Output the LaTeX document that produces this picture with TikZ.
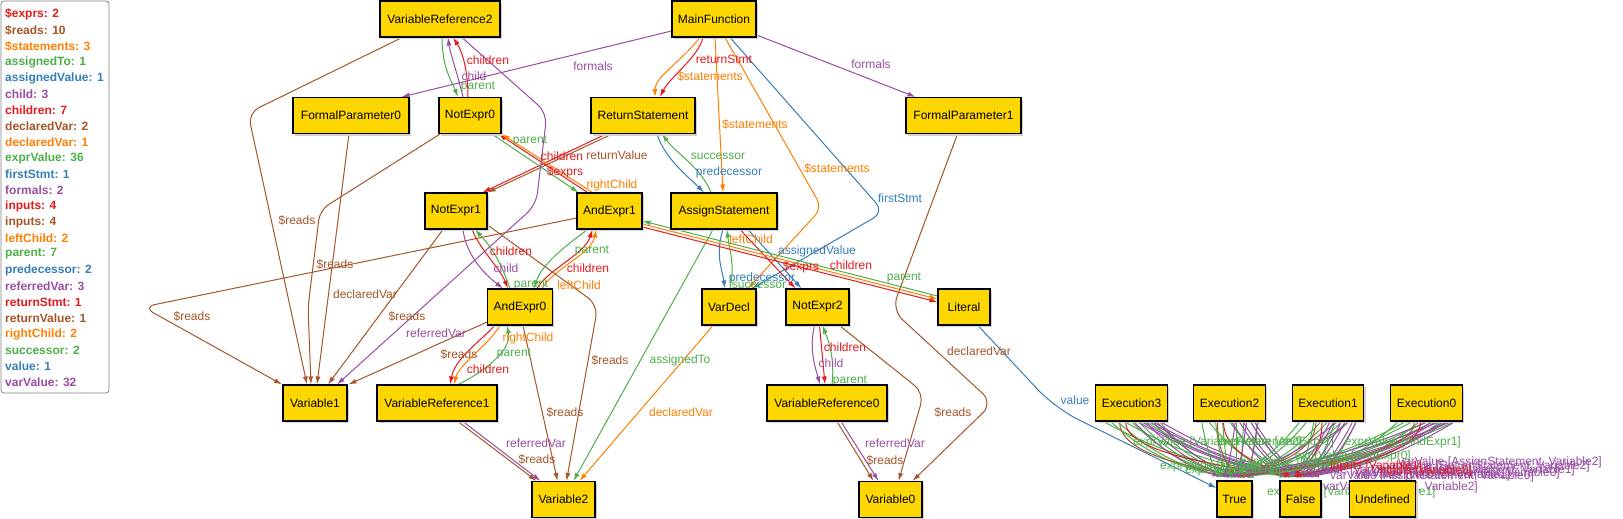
\documentclass[tikz,border=0pt]{standalone}
\usepackage{fontspec}
\setmainfont{Liberation Sans}
\usetikzlibrary{arrows.meta,shadows,calc}
\definecolor{cred}{HTML}{E41A1C}
\definecolor{cblue}{HTML}{377EB8}
\definecolor{cgreen}{HTML}{4DAF4A}
\definecolor{cpurple}{HTML}{984EA3}
\definecolor{corange}{HTML}{FF7F00}
\definecolor{cbrown}{HTML}{A65628}
\definecolor{nodefill}{HTML}{FFD700}
\newcommand\fs{\fontsize{12}{14}\selectfont}
\pgfdeclarelayer{bg}
\pgfsetlayers{bg,main}
\tikzset{
  ent/.style={draw=black, line width=1.1pt, fill=nodefill, minimum height=36pt, inner xsep=6pt, font=\fs,
    drop shadow={shadow xshift=2pt, shadow yshift=-2pt, fill=black!18, opacity=1}},
  e/.style={line width=1pt, -{Latex[length=8pt,width=5pt]}},
  lb/.style={font=\fs, inner sep=0pt},
  leg/.style={font=\fs\bfseries, inner sep=0pt, anchor=west}
}
\begin{document}
\begin{tikzpicture}[x=1pt,y=-1pt]
\useasboundingbox (0,0) rectangle (1623,519);
% nodes
\node[ent, minimum width=120pt] (VR2) at (440,19) {VariableReference2};
\node[ent, minimum width=84pt] (MF) at (714,19) {MainFunction};
\node[ent, minimum width=116pt] (FP0) at (351,115.5) {FormalParameter0};
\node[ent, minimum width=62pt] (NE0) at (470,115.5) {NotExpr0};
\node[ent, minimum width=104pt] (RS) at (643,115.5) {ReturnStatement};
\node[ent, minimum width=115pt] (FP1) at (963.5,115.5) {FormalParameter1};
\node[ent, minimum width=62pt] (NE1) at (456,211) {NotExpr1};
\node[ent, minimum width=65pt] (AE1) at (609.5,211) {AndExpr1};
\node[ent, minimum width=106pt] (AS) at (724,211) {AssignStatement};
\node[ent, minimum width=64pt] (AE0) at (520,307) {AndExpr0};
\node[ent, minimum width=54pt] (VD) at (729,307) {VarDecl};
\node[ent, minimum width=63pt] (NE2) at (817.5,307) {NotExpr2};
\node[ent, minimum width=52pt] (Lit) at (964,307) {Literal};
\node[ent, minimum width=64pt] (V1) at (315,403) {Variable1};
\node[ent, minimum width=120pt] (VR1) at (437,403) {VariableReference1};
\node[ent, minimum width=120pt] (VR0) at (827,403) {VariableReference0};
\node[ent, minimum width=69pt] (E3) at (1131.5,403) {Execution3};
\node[ent, minimum width=69pt] (E2) at (1229.5,403) {Execution2};
\node[ent, minimum width=69pt] (E1) at (1328,403) {Execution1};
\node[ent, minimum width=69pt] (E0) at (1426.5,403) {Execution0};
\node[ent, minimum width=63pt] (V2) at (563.5,499.5) {Variable2};
\node[ent, minimum width=63pt] (V0) at (890.5,499.5) {Variable0};
\node[ent, minimum width=35pt, inner xsep=4pt] (Tru) at (1234.5,499) {True};
\node[ent, minimum width=41pt, inner xsep=4pt] (Fal) at (1300.5,499) {False};
\node[ent, minimum width=65pt] (Und) at (1382.5,499) {Undefined};

\begin{pgfonlayer}{bg}
\fill[white] (0,0) rectangle (1623,519);
% MainFunction
\draw[e,cpurple] ([yshift=-12pt]MF.west) -- ([xshift=-8pt]FP0.north east);
\draw[e,cpurple] ([yshift=-16pt]MF.east) -- ([xshift=-48pt]FP1.north);
\draw[e,cred] ([xshift=-11pt]MF.south) .. controls +(-5,20) and +(10,-20) .. ([xshift=17pt]RS.north);
\draw[e,corange] ([xshift=-14pt]MF.south) .. controls +(-20,25) and +(0,-20) .. ([xshift=12pt]RS.north);
\draw[e,corange] ([xshift=1pt]MF.south) -- ([xshift=-1pt]AS.north);
\draw[e,corange,rounded corners=10pt] ([xshift=11pt]MF.south) -- (822,208) -- ([xshift=19pt]VD.north);
\draw[e,cblue,rounded corners=12pt] ([xshift=16pt]MF.south) -- (884,212) -- ([xshift=23pt]VD.north);
% ReturnStatement
\draw[e,cred] ([xshift=-37pt]RS.south) -- ([xshift=-5pt]NE1.north east);
\draw[e,cbrown] ([xshift=-31pt]RS.south) -- (NE1.north east);
\draw[e,cblue] ([xshift=14pt]RS.south) .. controls +(8,25) and +(-15,-15) .. ([xshift=-20pt]AS.north);
\draw[e,cgreen] ([xshift=-13pt]AS.north) .. controls +(-10,-25) and +(15,20) .. ([xshift=19pt]RS.south);
% AndExpr1 - NotExpr0
\draw[e,cred] ([xshift=-22pt]AE1.north) -- ([xshift=-3pt]NE0.south east);
\draw[e,corange] ([xshift=-17pt]AE1.north) -- (NE0.south east);
\draw[e,cgreen] ([xshift=22pt]NE0.south) -- ([xshift=2pt]AE1.north west);
% NotExpr0 - VariableReference2
\draw[e,cred] ([xshift=-2pt]NE0.north) .. controls +(0,-30) and +(8,12) .. ([xshift=13pt]VR2.south);
\draw[e,cpurple] ([xshift=-7pt]NE0.north) .. controls +(-6,-25) and +(2,15) .. ([xshift=8pt]VR2.south);
\draw[e,cgreen] ([xshift=2pt]VR2.south) .. controls +(0,30) and +(-6,-15) .. ([xshift=-12pt]NE0.north);
% into Variable1
\draw[e,cbrown,rounded corners=12pt] ([xshift=-38pt]VR2.south) -- (248,113) -- ([xshift=-8pt]V1.north);
\draw[e,cpurple,rounded corners=12pt] ([xshift=22pt]VR2.south) -- (547,113) -- (536,205) -- ([xshift=22pt]V1.north);
\draw[e,cbrown] ([xshift=-2pt]FP0.south) -- ([xshift=2pt]V1.north);
\draw[e,cbrown,rounded corners=10pt] ([xshift=-30pt]NE0.south) -- (320,210) -- (308,307) -- ([xshift=-4pt]V1.north);
\draw[e,cbrown] ([xshift=-13pt]NE1.south) -- ([xshift=13pt]V1.north);
\draw[e,cbrown,rounded corners=12pt] ([yshift=-7pt]AE1.west) -- (143,307) -- ([xshift=-33pt]V1.north);
\draw[e,cbrown] ([yshift=-15pt]AE0.west) -- ([xshift=1pt]V1.north east);
% NotExpr1 - AndExpr0
\draw[e,cred] ([xshift=16pt]NE1.south) .. controls +(8,20) and +(-8,-20) .. ([xshift=-12pt]AE0.north);
\draw[e,cpurple] ([xshift=7pt]NE1.south) .. controls +(3,26) and +(-18,-14) .. ([xshift=-17pt]AE0.north);
\draw[e,cgreen] ([xshift=-10pt]AE0.north) .. controls +(-10,-29) and +(15,16) .. ([xshift=19pt]NE1.south);
% AndExpr0 - AndExpr1
\draw[e,cred] ([xshift=17pt]AE0.north) .. controls +(12,-20) and +(-8,25) .. ([xshift=-17pt]AE1.south);
\draw[e,corange] ([xshift=22pt]AE0.north) .. controls +(12,-20) and +(-6,25) .. ([xshift=-13pt]AE1.south);
\draw[e,cgreen] ([xshift=-22pt]AE1.south) .. controls +(-20,15) and +(8,-25) .. ([xshift=14pt]AE0.north);
% AndExpr0 - VariableReference1
\draw[e,cred] ([xshift=-25pt]AE0.south) .. controls +(-20,20) and +(5,-25) .. ([xshift=13pt]VR1.north);
\draw[e,corange] ([xshift=-20pt]AE0.south) .. controls +(-12,20) and +(5,-20) .. ([xshift=17pt]VR1.north);
\draw[e,cgreen] ([xshift=21pt]VR1.north) .. controls +(25,-12) and +(5,25) .. ([xshift=-13pt]AE0.south);
% into Variable2
\draw[e,cbrown] ([xshift=3pt]AE0.south) -- ([xshift=-6pt]V2.north);
\draw[e,cbrown,rounded corners=12pt] ([yshift=-14pt]NE1.east) -- (598,305) -- ([xshift=3pt]V2.north);
\draw[e,cbrown] ([xshift=21pt]VR1.south) -- ([xshift=-27pt]V2.north);
\draw[e,cpurple] ([xshift=26pt]VR1.south) -- ([xshift=-23pt]V2.north);
\draw[e,cgreen] ([xshift=-11pt]AS.south) -- ([xshift=10pt]V2.north);
\draw[e,corange] ([xshift=-16pt]VD.south) -- ([xshift=16pt]V2.north);
% AssignStatement - VarDecl / NotExpr2
\draw[e,cblue] ([xshift=-1pt]AS.south) .. controls +(-8,25) and +(-3,-20) .. ([xshift=-4pt]VD.north);
\draw[e,cgreen] ([xshift=1pt]VD.north) .. controls +(5,-25) and +(3,25) .. ([xshift=3pt]AS.south);
\draw[e,cred] ([xshift=16pt]AS.south) -- ([xshift=-22pt]NE2.north);
\draw[e,cblue] ([xshift=24pt]AS.south) -- ([xshift=-16pt]NE2.north);
% AndExpr1 - Literal
\draw[e,cred] ([yshift=-16pt]AE1.east) -- ([yshift=5pt]Lit.west);
\draw[e,corange] ([yshift=-13pt]AE1.east) -- ([yshift=8pt]Lit.west);
\draw[e,cgreen] ([yshift=11pt]Lit.west) -- ([yshift=-10pt]AE1.east);
% NotExpr2 - VariableReference0
\draw[e,cpurple] ([xshift=-3pt]NE2.south) .. controls +(-6,25) and +(-4,-15) .. ([xshift=-7pt]VR0.north);
\draw[e,cred] ([xshift=2pt]NE2.south) -- ([xshift=-2pt]VR0.north);
\draw[e,cgreen] ([xshift=5pt]VR0.north) .. controls +(3,-25) and +(6,15) .. ([xshift=5pt]NE2.south);
% into Variable0
\draw[e,cbrown,rounded corners=12pt] ([xshift=22pt]NE2.south) -- (924,393) -- ([xshift=8pt]V0.north);
\draw[e,cbrown] ([xshift=10pt]VR0.south) -- ([xshift=-17pt]V0.north);
\draw[e,cpurple] ([xshift=14pt]VR0.south) -- ([xshift=-12pt]V0.north);
\draw[e,cbrown,rounded corners=14pt] ([xshift=-6pt]FP1.south) -- (892,310) -- (993,403) -- ([xshift=22pt]V0.north);
% Literal - True
\draw[e,cblue,rounded corners=25pt] ([xshift=14pt]Lit.south) -- (1055,408) -- ([yshift=11pt]Tru.west);
% Executions
\foreach \n/\cx/\ee in {E3/1131.5/3,E2/1229.5/2,E1/1328/1,E0/1426.5/0} {
  \foreach \k in {0,...,8} {
    \pgfmathtruncatemacro\tf{mod(\k+\ee,3)==0}
    \pgfmathsetmacro\dsx{-28+7*\k}
    \pgfmathsetmacro\dex{-13+3*\k}
    \pgfmathsetmacro\tx{\tf==1 ? 1300.5 : 1234.5}
    \pgfmathsetmacro\dc{(\cx+\dsx-\tx-\dex)*0.45}
    \pgfmathsetmacro\da{(\tx+\dex-\cx-\dsx)*0.3}
    \ifnum\tf=1 \def\tgt{Fal}\else\def\tgt{Tru}\fi
    \draw[e,cgreen] ([xshift=\dsx pt]\n.south) .. controls +(\da,30) and +(\dc,-10) .. ([xshift=\dex pt,yshift=4pt]\tgt.north);
  }
  \foreach \k in {0,...,7} {
    \pgfmathtruncatemacro\tf{mod(\k+\ee,3)!=0}
    \pgfmathsetmacro\dsx{2+3.8*\k}
    \pgfmathsetmacro\dex{-14+3.5*\k}
    \pgfmathsetmacro\tx{\tf==1 ? 1300.5 : 1234.5}
    \pgfmathsetmacro\dc{(\cx+\dsx-\tx-\dex)*0.45}
    \pgfmathsetmacro\da{(\tx+\dex-\cx-\dsx)*0.3}
    \ifnum\tf=1 \def\tgt{Fal}\else\def\tgt{Tru}\fi
    \draw[e,cpurple] ([xshift=\dsx pt]\n.south) .. controls +(\da,26) and +(\dc,-12) .. ([xshift=\dex pt,yshift=4pt]\tgt.north);
  }
  \pgfmathsetmacro\dcb{(\cx-12-1236)*0.5}
  \pgfmathsetmacro\dcr{(\cx-6-1292)*0.5}
  \draw[e,cbrown] ([xshift=-12pt]\n.south) .. controls +(0,30) and +(\dcb,-12) .. ([xshift=2pt,yshift=4pt]Tru.north);
  \draw[e,cred] ([xshift=-6pt]\n.south) .. controls +(0,30) and +(\dcr,-12) .. ([xshift=-8pt,yshift=4pt]Fal.north);
}
% edge labels
\node[lb,cpurple] at (593,66) {formals};
\node[lb,cpurple] at (871,64) {formals};
\node[lb,cred] at (724,59) {returnStmt};
\node[lb,corange] at (710,76) {\$statements};
\node[lb,corange] at (755,124) {\$statements};
\node[lb,corange] at (837,168) {\$statements};
\node[lb,cblue] at (900,198) {firstStmt};
\node[lb,cgreen] at (718,156) {successor};
\node[lb,cblue] at (729,172) {predecessor};
\node[lb,cbrown] at (617,155) {returnValue};
\node[lb,cred] at (562,156) {children};
\node[lb,cred] at (565,172) {\$exprs};
\node[lb,corange] at (612,185) {rightChild};
\node[lb,cgreen] at (530,141) {parent};
\node[lb,cred] at (488,60) {children};
\node[lb,cpurple] at (474,76) {child};
\node[lb,cgreen] at (478,87) {parent};
\node[lb,cbrown] at (297,220) {\$reads};
\node[lb,cbrown] at (335,264) {\$reads};
\node[lb,cbrown] at (365,294) {declaredVar};
\node[lb,cbrown] at (192,316) {\$reads};
\node[lb,cbrown] at (407,316) {\$reads};
\node[lb,cpurple] at (436,333) {referredVar};
\node[lb,cbrown] at (459,354) {\$reads};
\node[lb,cred] at (511,251) {children};
\node[lb,cpurple] at (506,268) {child};
\node[lb,cgreen] at (531,285) {parent};
\node[lb,cgreen] at (592,251) {parent};
\node[lb,cred] at (588,268) {children};
\node[lb,corange] at (579,285) {leftChild};
\node[lb,corange] at (528,338) {rightChild};
\node[lb,cgreen] at (514,354) {parent};
\node[lb,cred] at (488,369) {children};
\node[lb,cbrown] at (610,360) {\$reads};
\node[lb,cgreen] at (680,360) {assignedTo};
\node[lb,cbrown] at (565,412) {\$reads};
\node[lb,corange] at (681,412) {declaredVar};
\node[lb,cpurple] at (536,443) {referredVar};
\node[lb,cbrown] at (537,459) {\$reads};
\node[lb,corange] at (751,239) {leftChild};
\node[lb,cblue] at (817,251) {assignedValue};
\node[lb,cred] at (801,267) {\$exprs};
\node[lb,cred] at (851,265) {children};
\node[lb,cgreen] at (904,278) {parent};
\node[lb,cblue] at (762,278) {predecessor};
\node[lb,cgreen] at (759,285) {successor};
\node[lb,cred] at (845,347) {children};
\node[lb,cpurple] at (831,363) {child};
\node[lb,cgreen] at (850,381) {parent};
\node[lb,cbrown] at (979,351) {declaredVar};
\node[lb,cbrown] at (953,412) {\$reads};
\node[lb,cpurple] at (895,443) {referredVar};
\node[lb,cbrown] at (885,460) {\$reads};
\node[lb,cblue] at (1075,400) {value};
% execution labels (overlapping, as in the reference)
\node[lb,cgreen,anchor=west] at (1133,442) {exprValue [VariableReference2]};
\node[lb,cgreen,anchor=west] at (1218,442) {exprValue [AndExpr1]};
\node[lb,cgreen,anchor=east] at (1461,442) {exprValue [AndExpr1]};
\node[lb,cgreen,anchor=east] at (1411,456) {exprValue [AndExpr0]};
\node[lb,cgreen,anchor=west] at (1160,466) {exprValue [NotExpr1]};
\node[lb,cgreen,anchor=west] at (1185,470) {exprValue [Literal]};
\node[lb,cgreen,anchor=west] at (1240,462) {exprValue [NotExpr2]};
\node[lb,cgreen,anchor=west] at (1267,492) {exprValue [VariableReference1]};
\node[lb,cpurple,anchor=east] at (1602,462) {varValue [AssignStatement, Variable2]};
\node[lb,cpurple,anchor=east] at (1590,466) {varValue [ReturnStatement, Variable2]};
\node[lb,cpurple,anchor=east] at (1575,470) {varValue [AssignStatement, Variable1]};
\node[lb,cpurple,anchor=east] at (1560,473) {varValue [ReturnStatement, Variable0]};
\node[lb,cpurple,anchor=east] at (1510,475) {varValue [VarDecl, Variable1]};
\node[lb,cpurple,anchor=east] at (1478,487) {varValue [VarDecl, Variable2]};
\node[lb,cpurple,anchor=west] at (1300,470) {varValue [VarDecl, Variable0]};
\node[lb,cpurple,anchor=west] at (1330,476) {varValue [AssignStatement, Variable0]};
\node[lb,cred,anchor=west] at (1330,466) {inputs [Variable1]};
\node[lb,cred,anchor=west] at (1380,471) {inputs [Variable0]};
\end{pgfonlayer}
% legend
\draw[draw=black!50, line width=0.8pt, rounded corners=3pt, fill=white] (1,1) rectangle (109,393);
\node[leg,cred] (L1) at (5,14) {\$exprs: 2};
\node[leg,cbrown] (L2) at (5,30) {\$reads: 10};
\node[leg,corange] (L3) at (5,46) {\$statements: 3};
\node[leg,cgreen] (L4) at (5,62) {assignedTo: 1};
\node[leg,cblue] (L5) at (5,78) {assignedValue: 1};
\node[leg,cpurple] (L6) at (5,94) {child: 3};
\node[leg,cred] (L7) at (5,110) {children: 7};
\node[leg,cbrown] (L8) at (5,126) {declaredVar: 2};
\node[leg,corange] (L9) at (5,142) {declaredVar: 1};
\node[leg,cgreen] (L10) at (5,158) {exprValue: 36};
\node[leg,cblue] (L11) at (5,174) {firstStmt: 1};
\node[leg,cpurple] (L12) at (5,190) {formals: 2};
\node[leg,cred] (L13) at (5,206) {inputs: 4};
\node[leg,cbrown] (L14) at (5,222) {inputs: 4};
\node[leg,corange] (L15) at (5,238) {leftChild: 2};
\node[leg,cgreen] (L16) at (5,254) {parent: 7};
\node[leg,cblue] (L17) at (5,270) {predecessor: 2};
\node[leg,cpurple] (L18) at (5,286) {referredVar: 3};
\node[leg,cred] (L19) at (5,302) {returnStmt: 1};
\node[leg,cbrown] (L20) at (5,318) {returnValue: 1};
\node[leg,corange] (L21) at (5,334) {rightChild: 2};
\node[leg,cgreen] (L22) at (5,350) {successor: 2};
\node[leg,cblue] (L23) at (5,366) {value: 1};
\node[leg,cpurple] (L24) at (5,382) {varValue: 32};
\end{tikzpicture}
\end{document}
